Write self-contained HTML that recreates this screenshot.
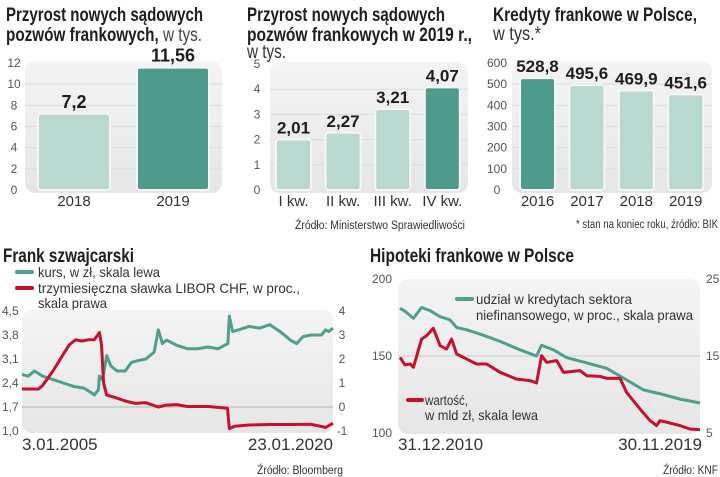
<!DOCTYPE html>
<html><head><meta charset="utf-8">
<style>
html,body{margin:0;padding:0;background:#fff;}
svg{display:block;font-family:"Liberation Sans",sans-serif;}
.t{font-family:"Liberation Sans Narrow","Liberation Sans",sans-serif;font-weight:bold;fill:#1e1e1e;}
.l{font-family:"Liberation Sans Narrow","Liberation Sans",sans-serif;fill:#333;}
.ax{font-size:12px;fill:#555;}
</style></head>
<body>
<svg id="s" width="720" height="477" viewBox="0 0 720 477">
<defs>
<linearGradient id="bg" x1="0" y1="0" x2="0" y2="1"><stop offset="0" stop-color="#f4f4f4"/><stop offset="1" stop-color="#e6e6e6"/></linearGradient>
</defs>
<text class="t" x="6" y="21" font-size="19" textLength="197" lengthAdjust="spacingAndGlyphs">Przyrost nowych sądowych</text>
<text class="t" x="6" y="41" font-size="19" textLength="196" lengthAdjust="spacingAndGlyphs">pozwów frankowych,<tspan font-weight="normal" fill="#444"> w tys.</tspan></text>
<text class="t" x="247" y="21" font-size="19" textLength="198" lengthAdjust="spacingAndGlyphs">Przyrost nowych sądowych</text>
<text class="t" x="247" y="41" font-size="19" textLength="225" lengthAdjust="spacingAndGlyphs">pozwów frankowych w 2019 r.,</text>
<text class="l" x="247" y="58" font-size="19" fill="#444" textLength="39" lengthAdjust="spacingAndGlyphs">w tys.</text>
<text class="t" x="493" y="21" font-size="19" textLength="204" lengthAdjust="spacingAndGlyphs">Kredyty frankowe w Polsce,</text>
<text class="l" x="493" y="40" font-size="19" fill="#444" textLength="48" lengthAdjust="spacingAndGlyphs">w tys.*</text>
<text class="l" x="465" y="229" font-size="11.5" text-anchor="end" fill="#444" textLength="170" lengthAdjust="spacingAndGlyphs">Źródło: Ministerstwo Sprawiedliwości</text>
<text class="l" x="718" y="228" font-size="11.5" text-anchor="end" fill="#444" textLength="142" lengthAdjust="spacingAndGlyphs">* stan na koniec roku, źródło: BIK</text>
<text class="t" x="3" y="262" font-size="19" textLength="131" lengthAdjust="spacingAndGlyphs">Frank szwajcarski</text>
<text class="t" x="370" y="262" font-size="19" textLength="204" lengthAdjust="spacingAndGlyphs">Hipoteki frankowe w Polsce</text>
<line x1="17" y1="272" x2="32" y2="272" stroke="#4e9f8e" stroke-width="4" stroke-linecap="round"/>
<text class="l" x="38" y="277" font-size="14" textLength="122" lengthAdjust="spacingAndGlyphs">kurs, w zł, skala lewa</text>
<line x1="17" y1="288" x2="32" y2="288" stroke="#c8102e" stroke-width="4" stroke-linecap="round"/>
<text class="l" x="38" y="293" font-size="14" textLength="262" lengthAdjust="spacingAndGlyphs">trzymiesięczna sławka LIBOR CHF, w proc.,</text>
<text class="l" x="38" y="308" font-size="14" textLength="69" lengthAdjust="spacingAndGlyphs">skala prawa</text>
<text class="l" x="343" y="474" font-size="11.5" text-anchor="end" fill="#444" textLength="86" lengthAdjust="spacingAndGlyphs">Źródło: Bloomberg</text>
<text class="l" x="718" y="474" font-size="11.5" text-anchor="end" fill="#444" textLength="55" lengthAdjust="spacingAndGlyphs">Źródło: KNF</text>
<g id="g"></g>
</svg>
<script>
// ---- data ----
const c1Cats=["2018","2019"]; const c1Vals=[7.2,11.56]; const c1Labels=["7,2","11,56"]; const c1Ticks=[0,2,4,6,8,10,12];
const c2Cats=["I kw.","II kw.","III kw.","IV kw."]; const c2Vals=[2.01,2.27,3.21,4.07]; const c2Labels=["2,01","2,27","3,21","4,07"]; const c2Ticks=[0,1,2,3,4,5];
const c3Cats=["2016","2017","2018","2019"]; const c3Vals=[528.8,495.6,469.9,451.6]; const c3Labels=["528,8","495,6","469,9","451,6"]; const c3Ticks=[0,100,200,300,400,500,600];
const kursT=[2005,2005.3,2005.6,2006,2006.5,2007,2007.5,2008,2008.4,2008.5,2008.7,2008.75,2008.9,2009.1,2009.3,2009.6,2010,2010.3,2010.6,2011,2011.4,2011.6,2011.8,2012,2012.5,2013,2013.5,2014,2014.5,2014.97,2015.04,2015.2,2015.5,2016,2016.5,2017,2017.5,2018,2018.3,2018.6,2019,2019.5,2019.7,2019.85,2020.06];
const kursV=[2.65,2.6,2.75,2.6,2.5,2.4,2.3,2.25,2.1,2.05,2.2,2.6,2.5,3.2,2.9,2.75,2.75,3.0,3.05,3.1,3.3,3.95,3.55,3.65,3.5,3.4,3.4,3.45,3.4,3.55,4.35,3.9,3.95,4.05,4.0,4.1,3.9,3.65,3.55,3.75,3.8,3.8,3.95,3.9,4.0];
const liborT=[2005,2005.8,2006,2006.5,2007,2007.3,2007.6,2007.9,2008.2,2008.5,2008.75,2008.85,2008.95,2009.1,2009.5,2010,2010.5,2011,2011.6,2012,2012.5,2013,2014,2014.95,2015.04,2015.3,2016,2017,2018,2019,2019.7,2020.06];
const liborV=[0.75,0.75,0.9,1.5,2.2,2.6,2.8,2.75,2.8,2.8,3.1,2.6,1.0,0.5,0.4,0.25,0.15,0.18,0.0,0.08,0.1,0.02,0.02,-0.05,-0.9,-0.8,-0.75,-0.73,-0.73,-0.72,-0.85,-0.68];
const c4LeftTicks=["1,0","1,7","2,4","3,1","3,8","4,5"]; const c4RightTicks=["-1","0","1","2","3","4"];
const shareM=[0,1.8,4.8,7.7,10.7,14.3,17.8,20.2,23.8,29.7,35.7,42.8,48.7,50.5,54.7,59.4,66.6,73.7,80.8,86.8,92.7,99.9,107];
const shareV=[21.2,20.8,19.9,21.3,20.9,20.1,19.7,18.7,18.4,17.7,16.9,15.8,15.0,16.4,15.8,14.8,14.1,13.4,11.9,10.6,10.1,9.4,8.9];
const valM=[0,1.8,3.6,4.8,7.7,9.5,11.9,14.3,16.6,18.4,20.2,23.8,27.3,30.9,35.7,41.6,46.4,48.7,50.5,52.3,55.9,58.3,64.2,66.6,71.3,73.7,78.5,80.8,85.6,89.2,91.5,92.7,95.1,99.9,103.4,107];
const valV=[149.1,144.2,144.8,142.7,161,163.2,168,156.7,154.5,161,151.3,148,144.8,144.8,139.4,135,134,132.5,150.2,145.9,147,139.4,140.5,137.2,136.8,135.5,135.5,126.4,115.6,108,104.8,108,107,104.8,102.6,102.2];
const c5LeftTicks=[100,150,200]; const c5RightTicks=[5,15,25];

const NS="http://www.w3.org/2000/svg", G=document.getElementById('g');
function mk(tag,at,txt){const e=document.createElementNS(NS,tag);for(const k in at)e.setAttribute(k,at[k]);if(txt!=null)e.textContent=txt;G.appendChild(e);return e;}

function barChart(p){
  const y=v=>p.y0-(v/p.max)*(p.y0-p.yTop);
  const bg=mk('rect',{x:p.bx0,y:p.yTop-2,width:p.bx1-p.bx0,height:p.y0-p.yTop+5,rx:10,fill:'url(#bg)'});
  
  
  p.ticks.forEach(t=>{
    if(t>0&&t<p.max){const g=mk('line',{x1:p.bx0,x2:p.bx1,y1:y(t),y2:y(t),stroke:'#dcdcdc','stroke-width':1});
      
      }
    const tl=mk('text',{x:p.tx,y:y(t)+4,'text-anchor':'middle',class:'l ax'},String(t));
    
    
  });
  p.cats.forEach((c,i)=>{
    const x=p.x0+i*p.step, top=y(p.vals[i]);
    const r=mk('rect',{x:x,y:top,width:p.w,height:p.y0-top,rx:3,fill:i===p.hi?'#4e9a8b':'#b9d9d0',stroke:'#f6f6f6','stroke-width':2});
    
    
    const v=mk('text',{x:x+p.w/2,y:top-6,'text-anchor':'middle',class:'t','font-size':p.vfs},p.labels[i]);
    
    
    const cl=mk('text',{x:x+p.w/2,y:p.y0+16,'text-anchor':'middle',class:'l','font-size':15,fill:'#222'},c);
    
    
  });
}
barChart({name:'chart1',cats:c1Cats,vals:c1Vals,labels:c1Labels,ticks:c1Ticks,max:12,y0:190,yTop:63,bx0:25,bx1:222,x0:38,step:99,w:72,hi:1,tx:14,vfs:18});
barChart({name:'chart2',cats:c2Cats,vals:c2Vals,labels:c2Labels,ticks:c2Ticks,max:5,y0:190,yTop:64,bx0:270,bx1:468,x0:276,step:49.6,w:35,hi:3,tx:257,vfs:17});
barChart({name:'chart3',cats:c3Cats,vals:c3Vals,labels:c3Labels,ticks:c3Ticks,max:600,y0:190,yTop:63,bx0:512,bx1:712,x0:520,step:49.4,w:35,hi:0,tx:497,vfs:17});

(function(){
  const x0=22,x1=333,t0=2005,t1=2020.06;
  const X=t=>x0+(t-t0)/(t1-t0)*(x1-x0);
  const YL=v=>431-(v-1.0)/3.5*120;
  const YR=v=>431-(v+1)/5*120;
  const bg=mk('rect',{x:22,y:310,width:311,height:123,rx:10,fill:'url(#bg)'});
  
  
  const z=mk('line',{x1:22,x2:333,y1:YR(0),y2:YR(0),stroke:'#c8c8c8','stroke-width':1.5});
  
  
  c4LeftTicks.forEach((t,i)=>{const e=mk('text',{x:2,y:431-i*24+4,class:'l ax'},t);
    
    });
  c4RightTicks.forEach((t,i)=>{const e=mk('text',{x:342,y:431-i*24+4,'text-anchor':'middle',class:'l ax'},t);
    
    });
  const gp=mk('polyline',{points:kursT.map((t,i)=>X(t)+','+YL(kursV[i])).join(' '),fill:'none',stroke:'#4e9f8e','stroke-width':3,'stroke-linejoin':'round'});
  
  
  const rp=mk('polyline',{points:liborT.map((t,i)=>X(t)+','+YR(liborV[i])).join(' '),fill:'none',stroke:'#c8102e','stroke-width':3,'stroke-linejoin':'round'});
  
  
  const a=mk('text',{x:22,y:450,class:'l','font-size':17,fill:'#111'},'3.01.2005');
  
  
  const b=mk('text',{x:333,y:450,'text-anchor':'end',class:'l','font-size':17,fill:'#111'},'23.01.2020');
  
  
})();

(function(){
  const x0=400,x1=700;
  const X=m=>x0+m/107*(x1-x0);
  const YL=v=>433-(v-100)/100*154;
  const YR=v=>433-(v-5)/20*154;
  const bg=mk('rect',{x:398,y:279,width:302,height:155,rx:10,fill:'url(#bg)'});
  
  
  const m=mk('line',{x1:398,x2:700,y1:YL(150),y2:YL(150),stroke:'#d8d8d8','stroke-width':1.5});
  
  
  c5LeftTicks.forEach(t=>{const e=mk('text',{x:372,y:YL(t)+4,class:'l ax'},String(t));
    
    });
  c5RightTicks.forEach(t=>{const e=mk('text',{x:706,y:YR(t)+4,class:'l ax'},String(t));
    
    });
  const gp=mk('polyline',{points:shareM.map((t,i)=>X(t)+','+YR(shareV[i])).join(' '),fill:'none',stroke:'#4e9f8e','stroke-width':3,'stroke-linejoin':'round'});
  
  
  const rp=mk('polyline',{points:valM.map((t,i)=>X(t)+','+YL(valV[i])).join(' '),fill:'none',stroke:'#c8102e','stroke-width':3,'stroke-linejoin':'round'});
  
  
  const l1=mk('line',{x1:457,x2:472,y1:299,y2:299,stroke:'#4e9f8e','stroke-width':4,'stroke-linecap':'round'});
  
  
  const t1=mk('text',{x:476,y:304,class:'l','font-size':14,textLength:156,lengthAdjust:'spacingAndGlyphs'},'udział w kredytach sektora');
  
  
  const t2=mk('text',{x:476,y:320,class:'l','font-size':14,textLength:217,lengthAdjust:'spacingAndGlyphs'},'niefinansowego, w proc., skala prawa');
  
  
  const l2=mk('line',{x1:408,x2:422,y1:400,y2:400,stroke:'#c8102e','stroke-width':4,'stroke-linecap':'round'});
  
  
  const t3=mk('text',{x:425,y:405,class:'l','font-size':14,textLength:43,lengthAdjust:'spacingAndGlyphs'},'wartość,');
  
  
  const t4=mk('text',{x:425,y:420,class:'l','font-size':14,textLength:113,lengthAdjust:'spacingAndGlyphs'},'w mld zł, skala lewa');
  
  
  const a=mk('text',{x:398,y:450,class:'l','font-size':17,fill:'#111'},'31.12.2010');
  
  
  const b=mk('text',{x:702,y:450,'text-anchor':'end',class:'l','font-size':17,fill:'#111'},'30.11.2019');
  
  
})();
</script>
</body></html>
